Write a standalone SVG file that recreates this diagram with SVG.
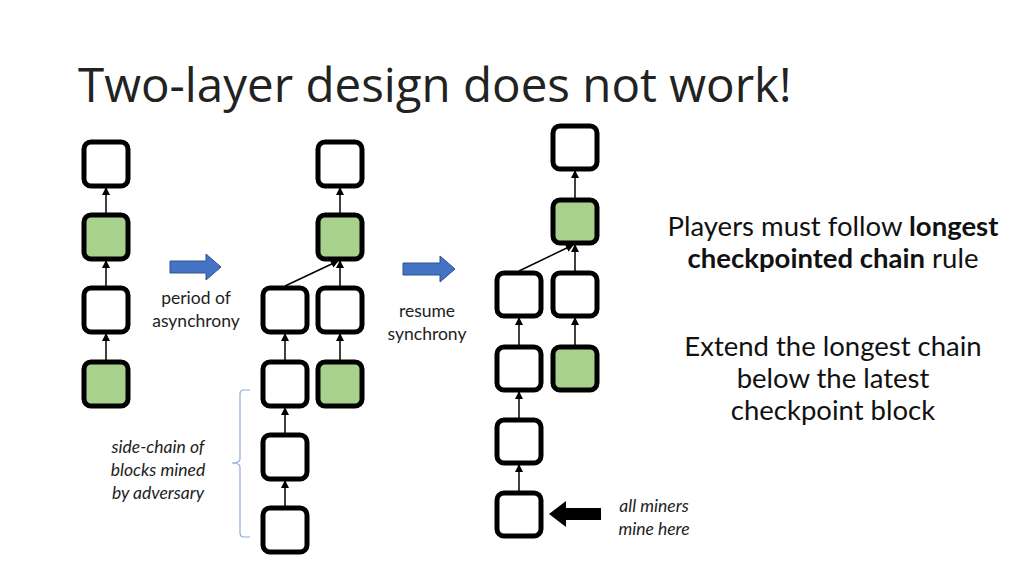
<svg xmlns="http://www.w3.org/2000/svg" width="1024" height="575" viewBox="0 0 1024 575">
<style>
.b{fill:#fff;stroke:#000;stroke-width:5}
.g{fill:#a9d18e;stroke:#000;stroke-width:5}
.c line{stroke:#000;stroke-width:1.5;marker-end:url(#ah)}
text{font-family:"Liberation Sans","Open Sans",sans-serif}
.t{font-family:"Open Sans","Noto Sans",sans-serif;font-size:47.5px;fill:#222}
.s{font-family:"Lato","Open Sans",sans-serif;font-size:17.5px;fill:#222}
.si{font-family:"Lato","Open Sans",sans-serif;font-size:17.5px;font-style:italic;fill:#222}
.r{font-family:"Lato","Open Sans",sans-serif;font-size:27.5px;fill:#111}
</style>
<defs><marker id="ah" markerWidth="8" markerHeight="8" refX="7" refY="4" orient="auto" markerUnits="userSpaceOnUse"><path d="M0,0L8,4L0,8z" fill="#000"/></marker></defs>
<rect width="1024" height="575" fill="#fff"/>
<text class="t" x="78" y="102">Two-layer design does not work!</text>
<g id="col1">
<rect class="b" x="84" y="142" width="44" height="44" rx="7"/>
<rect class="g" x="84" y="215" width="44" height="44" rx="7"/>
<rect class="b" x="84" y="288" width="44" height="44" rx="7"/>
<rect class="g" x="84" y="362" width="44" height="44" rx="7"/>
</g>
<g id="col2">
<rect class="b" x="318" y="142" width="44" height="44" rx="7"/>
<rect class="g" x="318" y="215" width="44" height="44" rx="7"/>
<rect class="b" x="318" y="288" width="44" height="44" rx="7"/>
<rect class="g" x="318" y="362" width="44" height="44" rx="7"/>
<rect class="b" x="263" y="288" width="44" height="44" rx="7"/>
<rect class="b" x="263" y="362" width="44" height="44" rx="7"/>
<rect class="b" x="263" y="435" width="44" height="44" rx="7"/>
<rect class="b" x="263" y="508" width="44" height="44" rx="7"/>
</g>
<g id="col3">
<rect class="b" x="553" y="126" width="44" height="43" rx="7"/>
<rect class="g" x="553" y="200" width="44" height="43" rx="7"/>
<rect class="b" x="553" y="273" width="44" height="43" rx="7"/>
<rect class="g" x="553" y="347" width="44" height="43" rx="7"/>
<rect class="b" x="497" y="273" width="44" height="43" rx="7"/>
<rect class="b" x="497" y="347" width="44" height="43" rx="7"/>
<rect class="b" x="497" y="420" width="44" height="43" rx="7"/>
<rect class="b" x="497" y="493" width="44" height="43" rx="7"/>
</g>
<g class="c" id="connectors">
<line x1="106" y1="213" x2="106" y2="188"/>
<line x1="106" y1="286" x2="106" y2="261"/>
<line x1="106" y1="360" x2="106" y2="334"/>
<line x1="340" y1="213" x2="340" y2="188"/>
<line x1="340" y1="286" x2="340" y2="261"/>
<line x1="340" y1="360" x2="340" y2="334"/>
<line x1="285" y1="286" x2="338" y2="261"/>
<line x1="285" y1="360" x2="285" y2="334"/>
<line x1="285" y1="433" x2="285" y2="408"/>
<line x1="285" y1="506" x2="285" y2="481"/>
<line x1="575" y1="198" x2="575" y2="171"/>
<line x1="575" y1="271" x2="575" y2="245"/>
<line x1="575" y1="345" x2="575" y2="318"/>
<line x1="519" y1="271" x2="573" y2="245"/>
<line x1="519" y1="345" x2="519" y2="318"/>
<line x1="519" y1="418" x2="519" y2="392"/>
<line x1="519" y1="491" x2="519" y2="465"/>
</g>
<g id="arrows">
<path d="M170,261H206V254L221,267L206,280V273H170Z" fill="#4472c4" stroke="#2f528f" stroke-width="1"/>
<path d="M403,263H440V256L455,269L440,282V275H403Z" fill="#4472c4" stroke="#2f528f" stroke-width="1"/>
<path d="M601,508H566V501L549,514L566,527V520H601Z" fill="#000"/>
<path d="M250,390H244Q240,390 240,394V459Q240,463 232,463Q240,463 240,467V533Q240,537 244,537H250" fill="none" stroke="#8faadc" stroke-width="1.2"/>
</g>
<text class="s" x="196" y="304" text-anchor="middle">period of</text>
<text class="s" x="196" y="327" text-anchor="middle">asynchrony</text>
<text class="s" x="427" y="317" text-anchor="middle">resume</text>
<text class="s" x="427" y="340" text-anchor="middle">synchrony</text>
<text class="si" x="158" y="453" text-anchor="middle">side-chain of</text>
<text class="si" x="158" y="476" text-anchor="middle">blocks mined</text>
<text class="si" x="158" y="499" text-anchor="middle">by adversary</text>
<text class="si" x="654" y="512" text-anchor="middle">all miners</text>
<text class="si" x="654" y="535" text-anchor="middle">mine here</text>
<text class="r" x="833" y="236" text-anchor="middle">Players must follow <tspan font-weight="bold">longest</tspan></text>
<text class="r" x="833" y="268" text-anchor="middle"><tspan font-weight="bold">checkpointed chain</tspan> rule</text>
<text class="r" x="833" y="356" text-anchor="middle">Extend the longest chain</text>
<text class="r" x="833" y="388" text-anchor="middle">below the latest</text>
<text class="r" x="833" y="420" text-anchor="middle">checkpoint block</text>
</svg>
